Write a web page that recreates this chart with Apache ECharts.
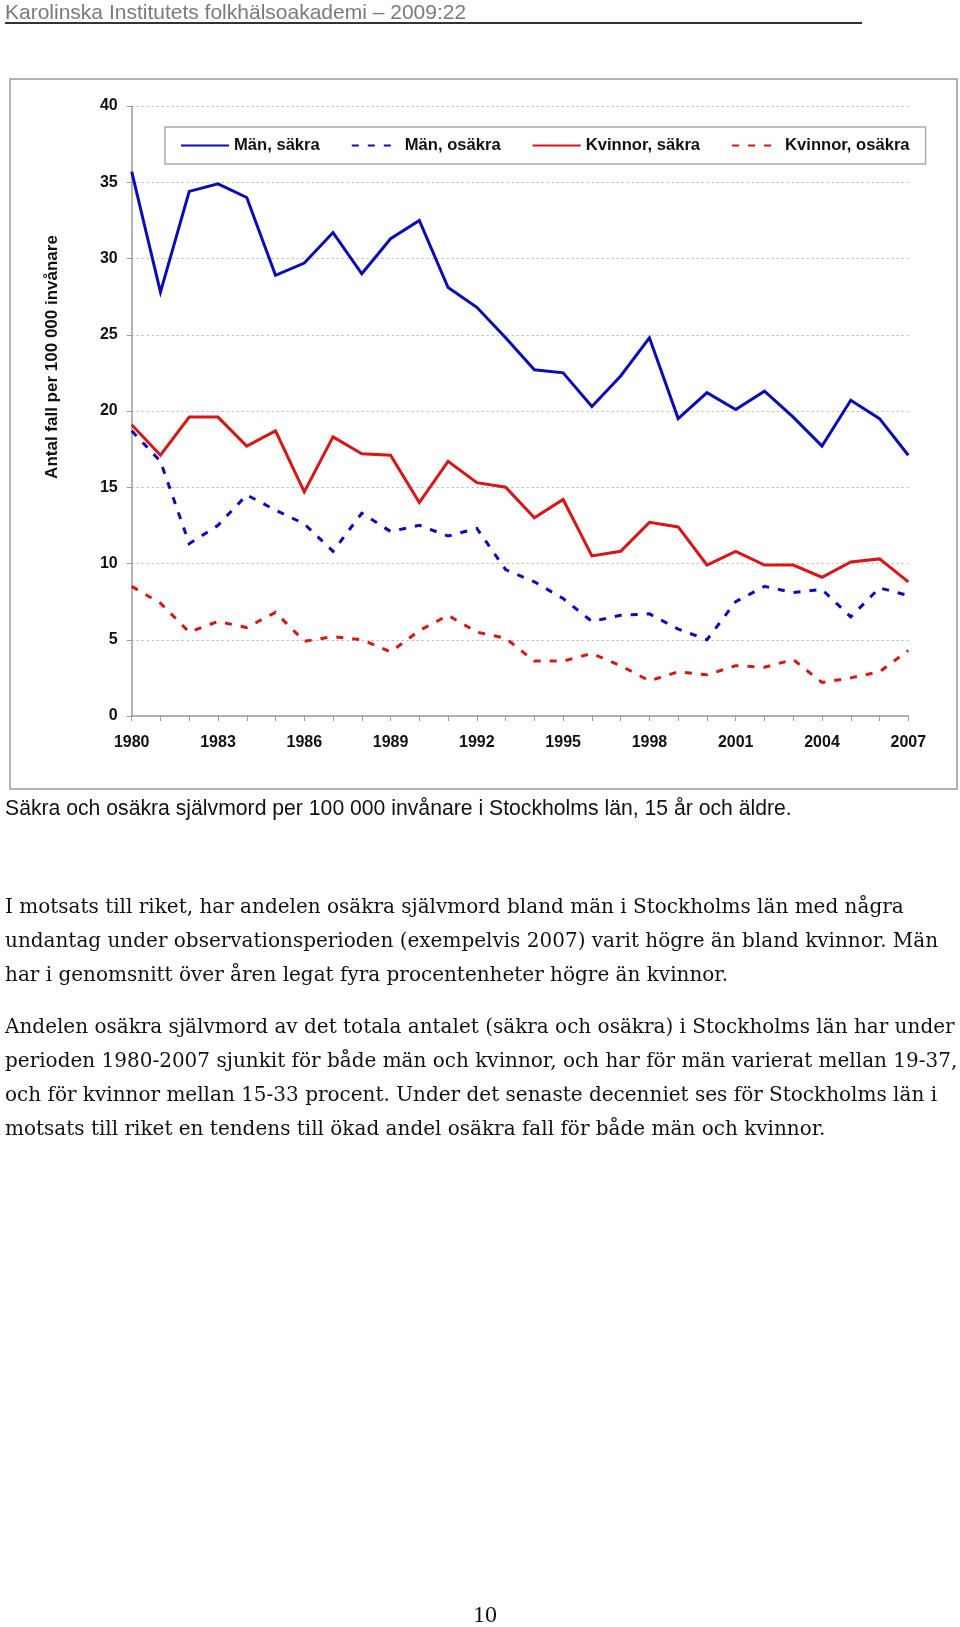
<!DOCTYPE html>
<html>
<head>
<meta charset="utf-8">
<script src="https://cdn.jsdelivr.net/npm/echarts@6/dist/echarts.min.js"></script>
<style>
  html, body { margin: 0; padding: 0; background: #fff; }
  body { width: 960px; height: 1627px; position: relative; overflow: hidden; }
  #chart { position: absolute; left: 0; top: 0; width: 960px; height: 1627px; }
  .txt { position: absolute; white-space: nowrap; }
  #header { left: 5px; top: 0px; font: 21px/24px "Liberation Sans", Arial, sans-serif; color: #7a7a7a; }
  #rule { position: absolute; left: 5px; top: 22px; width: 857px; height: 2px; background: #333; }
  #caption { left: 5px; top: 796px; font: 21.2px/24px "Liberation Sans", Arial, sans-serif; color: #111; }
  .para { left: 5px; font: 20px/34px "DejaVu Serif", serif; color: #111; }
  #p1 { top: 889px; }
  #p2 { top: 1009px; }
  #pagenum { left: 0; width: 970px; text-align: center; top: 1600px; font: 24px/28px "Liberation Serif", serif; color: #111; }
</style>
</head>
<body>
<div id="chart"></div>
<div id="header" class="txt">Karolinska Institutets folkhälsoakademi – 2009:22</div>
<div id="rule"></div>
<div id="caption" class="txt">Säkra och osäkra självmord per 100 000 invånare i Stockholms län, 15 år och äldre.</div>
<div id="p1" class="txt para">I motsats till riket, har andelen osäkra självmord bland män i Stockholms län med några<br>undantag under observationsperioden (exempelvis 2007) varit högre än bland kvinnor. Män<br>har i genomsnitt över åren legat fyra procentenheter högre än kvinnor.</div>
<div id="p2" class="txt para">Andelen osäkra självmord av det totala antalet (säkra och osäkra) i Stockholms län har under<br>perioden 1980-2007 sjunkit för både män och kvinnor, och har för män varierat mellan 19-37,<br>och för kvinnor mellan 15-33 procent. Under det senaste decenniet ses för Stockholms län i<br>motsats till riket en tendens till ökad andel osäkra fall för både män och kvinnor.</div>
<div id="pagenum" class="txt">10</div>
<script>
const years = ['1980','1981','1982','1983','1984','1985','1986','1987','1988','1989',
  '1990','1991','1992','1993','1994','1995','1996','1997','1998','1999',
  '2000','2001','2002','2003','2004','2005','2006','2007'];

const manSakra = [35.7, 27.8, 34.4, 34.9, 34.0, 28.9, 29.7, 31.7, 29.0, 31.3,
  32.5, 28.1, 26.8, 24.8, 22.7, 22.5, 20.3, 22.3, 24.8, 19.5,
  21.2, 20.1, 21.3, 19.6, 17.7, 20.7, 19.5, 17.1];

const manOsakra = [18.7, 16.7, 11.3, 12.5, 14.5, 13.5, 12.6, 10.8, 13.3, 12.1,
  12.5, 11.8, 12.3, 9.6, 8.8, 7.7, 6.2, 6.6, 6.7, 5.7,
  5.0, 7.5, 8.5, 8.1, 8.3, 6.5, 8.4, 7.9];

const kvinnorSakra = [19.1, 17.1, 19.6, 19.6, 17.7, 18.7, 14.7, 18.3, 17.2, 17.1,
  14.0, 16.7, 15.3, 15.0, 13.0, 14.2, 10.5, 10.8, 12.7, 12.4,
  9.9, 10.8, 9.9, 9.9, 9.1, 10.1, 10.3, 8.8];

const kvinnorOsakra = [8.5, 7.4, 5.5, 6.2, 5.8, 6.8, 4.9, 5.2, 5.0, 4.2,
  5.6, 6.6, 5.5, 5.1, 3.6, 3.6, 4.1, 3.3, 2.3, 2.9,
  2.7, 3.3, 3.2, 3.7, 2.2, 2.5, 2.9, 4.3];

const seriesNames = ['Män, säkra', 'Män, osäkra', 'Kvinnor, säkra', 'Kvinnor, osäkra'];
const yTicks = { min: 0, max: 40, step: 5 };
const yAxisTitle = 'Antal fall per 100 000 invånare';

const BLUE = '#0a0abf';
const RED = '#dc1414';
const FONT = '"Liberation Sans", Arial, sans-serif';

function lineSeries(name, data, color, dashed) {
  return {
    name: name,
    type: 'line',
    data: data,
    symbol: 'none',
    showSymbol: false,
    smooth: false,
    silent: true,
    lineStyle: { color: color, width: 3, type: dashed ? [7, 9] : 'solid', cap: 'butt', join: 'miter' },
    itemStyle: { color: color }
  };
}

const chart = echarts.init(document.getElementById('chart'), null, { renderer: 'canvas' });
chart.setOption({
  animation: false,
  backgroundColor: '#fff',
  grid: { left: 131.7, top: 106, width: 776.6, height: 610, containLabel: false },
  legend: {
    data: seriesNames,
    left: 165, top: 127,
    orient: 'horizontal',
    itemWidth: 48, itemHeight: 14, itemGap: 31,
    padding: [10, 16, 10, 15],
    backgroundColor: '#fff',
    borderColor: '#aaa', borderWidth: 1.5,
    selectedMode: false,
    itemStyle: { opacity: 0, borderWidth: 0 },
    textStyle: { fontFamily: FONT, fontSize: 16.6, fontWeight: 'bold', color: '#111' }
  },
  xAxis: {
    type: 'category',
    data: years,
    boundaryGap: false,
    axisLine: { show: true, lineStyle: { color: '#9a9a9a', width: 1.5 } },
    axisTick: { show: true, interval: 0, length: 5, lineStyle: { color: '#9a9a9a', width: 1 } },
    axisLabel: { interval: 2, margin: 19, fontFamily: FONT, fontSize: 16, fontWeight: 'bold', color: '#111' },
    splitLine: { show: false }
  },
  yAxis: {
    type: 'value',
    min: yTicks.min, max: yTicks.max, interval: yTicks.step,
    axisLine: { show: true, lineStyle: { color: '#9a9a9a', width: 1.5 } },
    axisTick: { show: true, length: 5, lineStyle: { color: '#9a9a9a', width: 1 } },
    axisLabel: { margin: 14, padding: [6, 0, 0, 0], fontFamily: FONT, fontSize: 16, fontWeight: 'bold', color: '#111' },
    splitLine: { show: true, lineStyle: { color: '#b5b5b5', width: 1, type: [2, 3] } }
  },
  graphic: [
    {
      type: 'rect', z: -10, silent: true,
      shape: { x: 10, y: 79, width: 947, height: 710 },
      style: { fill: 'none', stroke: '#9a9a9a', lineWidth: 1.5 }
    },
    {
      type: 'text', silent: true,
      x: 52, y: 357, rotation: Math.PI / 2,
      style: {
        text: yAxisTitle,
        fontFamily: FONT, fontSize: 17, fontWeight: 'bold', fill: '#111',
        align: 'center', verticalAlign: 'middle',
        textAlign: 'center', textVerticalAlign: 'middle'
      }
    }
  ],
  series: [
    lineSeries(seriesNames[0], manSakra, BLUE, false),
    lineSeries(seriesNames[1], manOsakra, BLUE, true),
    lineSeries(seriesNames[2], kvinnorSakra, RED, false),
    lineSeries(seriesNames[3], kvinnorOsakra, RED, true)
  ]
});
</script>
</body>
</html>
